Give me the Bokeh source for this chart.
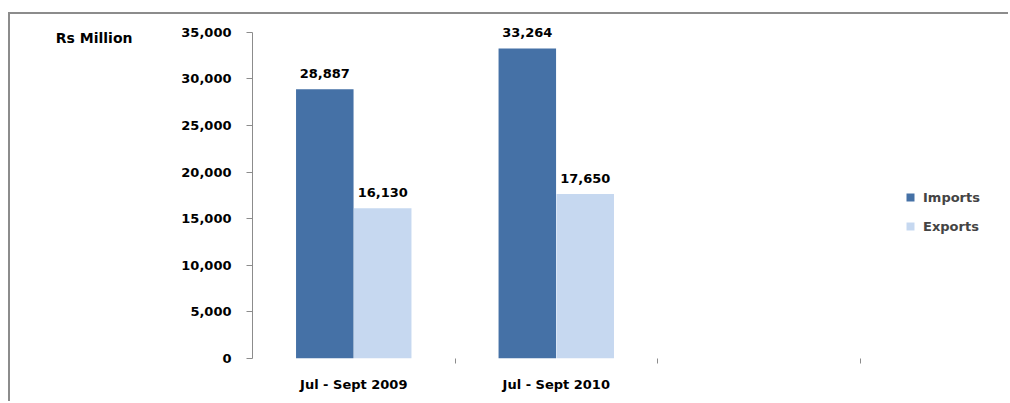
from bokeh.plotting import figure
from bokeh.models import (Range1d, FixedTicker, NumeralTickFormatter, Legend,
                          LegendItem, LinearAxis)
from bokeh.embed import file_html
from bokeh.resources import INLINE
from bokeh.core.properties import value

# ---- data ----
categories = ["Jul - Sept 2009", "Jul - Sept 2010", ""]
imports = [28887, 33264]
exports = [16130, 17650]
y_ticks = [0, 5000, 10000, 15000, 20000, 25000, 30000, 35000]
series_names = ["Imports", "Exports"]
unit_label = "Rs Million"

IMP_COLOR = "#4571A6"
EXP_COLOR = "#C6D8F0"
AXIS_COLOR = "#8C8C8C"
FONT = "DejaVu Sans"

y_top = y_ticks[-1]
slot_centers = [i + 0.5 for i in range(len(categories))]
boundaries = [i + 1 for i in range(len(categories))]
offset = 0.143
bar_w = 0.284
imp_x = [slot_centers[i] - offset for i in range(len(imports))]
exp_x = [slot_centers[i] + offset for i in range(len(exports))]

p = figure(width=1000, height=389, output_backend="svg", toolbar_location=None,
           x_range=Range1d(0, 3.743), y_range=Range1d(0, y_top + 1900),
           min_border_left=242, min_border_right=0, min_border_top=0,
           min_border_bottom=45)
p.styles = {"border-top": "2px solid #8C8C8C", "border-left": "2px solid #8C8C8C",
            "margin-top": "12px", "margin-left": "8px"}
p.outline_line_color = None
p.grid.visible = False
p.background_fill_color = "white"

r_imp = p.vbar(x=imp_x, top=imports, width=bar_w, fill_color=IMP_COLOR, line_color=None)
r_exp = p.vbar(x=exp_x, top=exports, width=bar_w, fill_color=EXP_COLOR, line_color=None)

for xs, vals in ((imp_x, imports), (exp_x, exports)):
    p.text(x=xs, y=vals, text=[f"{v:,}" for v in vals], text_align="center",
           text_baseline="bottom", y_offset=-11, text_font=value(FONT),
           text_font_style="bold", text_font_size="13px", text_color="black")

# x axis: labels at slot centers, ticks at slot boundaries
xa = p.xaxis[0]
xa.ticker = FixedTicker(ticks=slot_centers, minor_ticks=boundaries)
xa.major_label_overrides = {c: name for c, name in zip(slot_centers, categories)}
xa.axis_line_color = None
xa.major_tick_line_color = None
xa.major_tick_out = 0
xa.major_tick_in = 0
xa.minor_tick_line_color = AXIS_COLOR
xa.minor_tick_out = 5
xa.minor_tick_in = 0
xa.major_label_standoff = 13
xa.major_label_text_font = FONT
xa.major_label_text_font_style = "bold"
xa.major_label_text_font_size = "13px"
xa.major_label_text_color = "black"

ya = p.yaxis[0]
ya.ticker = FixedTicker(ticks=y_ticks)
ya.bounds = (0, y_top)
ya.formatter = NumeralTickFormatter(format="0,0")
ya.axis_line_color = AXIS_COLOR
ya.major_tick_line_color = AXIS_COLOR
ya.major_tick_out = 6
ya.major_tick_in = 0
ya.minor_tick_line_color = None
ya.major_label_standoff = 15
ya.major_label_text_font = FONT
ya.major_label_text_font_style = "bold"
ya.major_label_text_font_size = "13px"
ya.major_label_text_color = "black"

# unit caption, drawn as a second (line-less) left axis with one label
unit_pos = y_top - 600
unit_axis = LinearAxis(ticker=FixedTicker(ticks=[unit_pos]),
                       major_label_overrides={unit_pos: unit_label},
                       axis_line_color=None, major_tick_line_color=None,
                       minor_tick_line_color=None, major_tick_out=0,
                       major_label_standoff=46, major_label_text_font=FONT,
                       major_label_text_font_style="bold",
                       major_label_text_font_size="14px",
                       major_label_text_color="black")
p.add_layout(unit_axis, "left")

legend = Legend(items=[LegendItem(label=series_names[0], renderers=[r_imp]),
                       LegendItem(label=series_names[1], renderers=[r_exp])],
                location=(653, 122), glyph_width=10, glyph_height=10,
                label_standoff=8, spacing=9, padding=0, margin=0,
                border_line_color=None, background_fill_alpha=0,
                label_text_font=FONT, label_text_font_style="bold",
                label_text_font_size="13px", label_height=20)
p.add_layout(legend)

open("out.html", "w").write(file_html(p, INLINE))
